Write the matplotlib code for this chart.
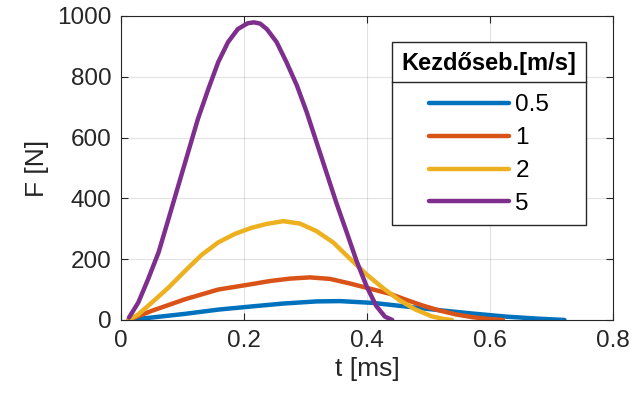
import matplotlib
matplotlib.use("Agg")
import matplotlib.pyplot as plt
from matplotlib.lines import Line2D

plt.rcParams['font.family'] = ['Liberation Sans', 'DejaVu Sans']

# contact force curves, t in ms, F in N
t_05 = [0.012, 0.050, 0.104, 0.158, 0.210, 0.264, 0.318, 0.356, 0.410, 0.464, 0.518, 0.572, 0.626, 0.680, 0.721]
F_05 = [0, 8, 20, 34, 44, 54, 61, 62, 56, 44, 32, 21, 11, 4, 0]

t_1 = [0.012, 0.050, 0.104, 0.158, 0.210, 0.242, 0.275, 0.307, 0.340, 0.372, 0.399, 0.437,
       0.464, 0.491, 0.518, 0.545, 0.572, 0.599, 0.621]
F_1 = [0, 30, 68, 100, 117, 128, 136, 140, 135, 120, 106, 86, 66, 47, 31, 18, 9, 3, 0]

t_2 = [0.012, 0.028, 0.050, 0.077, 0.104, 0.131, 0.158, 0.185, 0.212, 0.237, 0.264, 0.291,
       0.318, 0.345, 0.372, 0.399, 0.426, 0.452, 0.478, 0.505, 0.525, 0.538]
F_2 = [0, 18, 57, 106, 161, 214, 255, 283, 303, 316, 325, 317, 292, 255, 202, 150, 105, 66,
       35, 12, 3, 0]

t_5 = [0.013, 0.028, 0.044, 0.061, 0.077, 0.093, 0.109, 0.125, 0.142, 0.158, 0.174, 0.190,
       0.206, 0.216, 0.226, 0.237, 0.253, 0.269, 0.286, 0.302, 0.318, 0.334, 0.350, 0.367,
       0.383, 0.399, 0.415, 0.429, 0.441]
F_5 = [8, 57, 134, 222, 331, 441, 551, 661, 760, 848, 914, 957, 976, 979, 975, 957, 914, 848,
       771, 683, 584, 485, 386, 288, 194, 112, 46, 11, 0]

labels = ['0.5', '1', '2', '5']
colors = ['#0072BD', '#D95319', '#EDB120', '#7E2F8E']

fig = plt.figure(figsize=(6.32, 4.05), dpi=100)
ax = fig.add_axes([0.1915, 0.21, 0.7785, 0.7506])

for tt, ff, lab, c in zip([t_05, t_1, t_2, t_5], [F_05, F_1, F_2, F_5], labels, colors):
    ax.plot(tt, ff, color=c, lw=3.2, label=lab, solid_capstyle='round', solid_joinstyle='round')

ax.set_xlim(0, 0.8)
ax.set_ylim(0, 1000)
ax.set_xticks([0, 0.2, 0.4, 0.6, 0.8])
ax.set_xticklabels(['0', '0.2', '0.4', '0.6', '0.8'])
ax.set_yticks([0, 200, 400, 600, 800, 1000])
ax.grid(True, color='#262626', alpha=0.13, lw=0.8)
ax.tick_params(direction='in', length=5, width=0.8, colors='#262626',
               labelsize=17.5, top=True, right=True, pad=7)
for s in ax.spines.values():
    s.set_color('#262626')
    s.set_linewidth(0.8)
ax.set_xlabel('t [ms]', fontsize=19, color='#262626', labelpad=4)
ax.set_ylabel('F [N]', fontsize=19, color='#262626', labelpad=6)

leg = ax.legend(loc='upper left', bbox_to_anchor=(0.551, 0.914), fontsize=17.5,
                title='Kezdőseb.[m/s]', title_fontproperties={'weight': 'bold', 'size': 17},
                frameon=True, fancybox=False, edgecolor='#262626', framealpha=1,
                handlelength=3.3, handletextpad=0.25, labelspacing=0.45,
                borderpad=0.4, borderaxespad=0)
leg.get_frame().set_linewidth(1.0)
for h in leg.get_lines():
    h.set_linewidth(3.2)
# extra room between the title and the entries
leg._legend_box.sep = 0.45 * 17.5 + 6

fig.canvas.draw()
r = fig.canvas.get_renderer()
fb = leg.get_frame().get_window_extent(r)
tb = leg.get_title().get_window_extent(r)
y_sep = tb.y0 - 7
x0, x1 = fig.transFigure.inverted().transform([[fb.x0, y_sep], [fb.x1, y_sep]])
fig.add_artist(Line2D([x0[0], x1[0]], [x0[1], x1[1]], transform=fig.transFigure,
                      color='#262626', lw=1.0))

fig.savefig('out.png', dpi=100)
